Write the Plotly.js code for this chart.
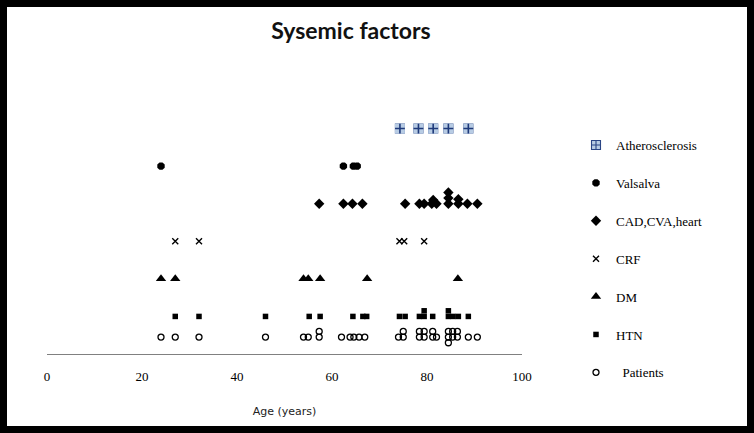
<!DOCTYPE html>
<html><head><meta charset="utf-8">
<script src="https://cdn.plot.ly/plotly-3.0.1.min.js"></script>
<style>html,body{margin:0;padding:0;background:#fff}#chart{width:754px;height:433px}</style>
</head><body><div id="chart"></div>
<script>
// Ages (years), with row levels (stacked duplicates slightly offset)
const atheroAge = [74.3, 78.2, 81.3, 84.5, 88.7];
const atheroLvl = [6, 6, 6, 6, 6];

const valsalvaAge = [24, 62.4, 64.5, 65.3];
const valsalvaLvl = [5, 5, 5, 5];

const cadAge = [57.3, 62.4, 64.3, 66.4, 75.4, 78.4, 79.4, 81.0, 81.3, 82.0, 84.5, 84.5, 84.5, 86.6, 86.6, 88.5, 90.6];
const cadLvl = [4, 4, 4, 4, 4, 4, 4, 4, 4.1, 4, 4, 4.15, 4.3, 4, 4.12, 4, 4];

const crfAge = [27, 32, 74.2, 75.2, 79.4];
const crfLvl = [3, 3, 3, 3, 3];

const dmAge = [24, 27, 54, 55, 57.5, 67.4, 86.5];
const dmLvl = [2, 2, 2, 2, 2, 2, 2];

const htnAge = [27, 32, 46, 55.2, 57.5, 64.4, 66.5, 67.3, 74.2, 75.4, 78.4, 79.4, 79.4, 81.2, 84.5, 84.5, 85.5, 86.6, 88.7];
const htnLvl = [1, 1, 1, 1, 1, 1, 1, 1, 1, 1, 1, 1, 1.15, 1, 1, 1.15, 1, 1, 1];

const patAge = [24, 27, 32, 46, 54, 55, 57.3, 57.3, 62, 63.8, 64.6, 65.7, 66.9, 74, 75, 75, 78.4, 78.4, 79.4, 79.4, 81.2, 81.2, 82, 84.5, 84.5, 84.5, 85.4, 85.4, 86.4, 86.4, 88.7, 90.6];
const patLvl = [0.45, 0.45, 0.45, 0.45, 0.45, 0.45, 0.45, 0.6, 0.45, 0.45, 0.45, 0.45, 0.45, 0.45, 0.45, 0.6, 0.45, 0.6, 0.45, 0.6, 0.45, 0.6, 0.45, 0.3, 0.45, 0.6, 0.45, 0.6, 0.45, 0.6, 0.45, 0.45];

const seriesNames = ['Atherosclerosis', 'Valsalva', 'CAD,CVA,heart', 'CRF', 'DM', 'HTN', '\u00a0\u00a0Patients'];
const xTicks = [0, 20, 40, 60, 80, 100];

const traces = [
  {x: atheroAge, y: atheroLvl, name: seriesNames[0], type: 'scatter', mode: 'markers', legendgroup: 'a',
   marker: {symbol: 'square-cross', size: 9, color: '#b8cce4', line: {color: '#2a4585', width: 1.1}}},
  // light square and small plus drawn over the same Atherosclerosis points
  {x: atheroAge, y: atheroLvl, type: 'scatter', mode: 'markers', showlegend: false, legendgroup: 'a',
   marker: {symbol: 'square', size: 10, color: '#b8cce4', line: {width: 0}}},
  {x: atheroAge, y: atheroLvl, type: 'scatter', mode: 'markers', showlegend: false, legendgroup: 'a',
   marker: {symbol: 'cross-thin-open', size: 7, color: '#1f3a7a', line: {color: '#1f3a7a', width: 1.6}}},
  {x: valsalvaAge, y: valsalvaLvl, name: seriesNames[1], type: 'scatter', mode: 'markers', legendgroup: 'b',
   marker: {symbol: 'octagon', size: 8, color: '#000'}},
  {x: cadAge, y: cadLvl, name: seriesNames[2], type: 'scatter', mode: 'markers', legendgroup: 'c',
   marker: {symbol: 'diamond', size: 8, color: '#000'}},
  {x: crfAge, y: crfLvl, name: seriesNames[3], type: 'scatter', mode: 'markers', legendgroup: 'd',
   marker: {symbol: 'x-thin-open', size: 6, color: '#000', line: {color: '#000', width: 1.4}}},
  {x: dmAge, y: dmLvl, name: seriesNames[4], type: 'scatter', mode: 'markers', legendgroup: 'e',
   marker: {symbol: 'triangle-up', size: 9, color: '#000'}},
  {x: htnAge, y: htnLvl, name: seriesNames[5], type: 'scatter', mode: 'markers', legendgroup: 'f',
   marker: {symbol: 'square', size: 5.5, color: '#000'}},
  {x: patAge, y: patLvl, name: seriesNames[6], type: 'scatter', mode: 'markers', legendgroup: 'g',
   marker: {symbol: 'circle-open', size: 6, color: '#000', line: {color: '#000', width: 1.3}}}
];

const W = 754, H = 433, L = 47, R = 232, T = 91, B = 79;
const pw = W - L - R, ph = H - T - B;
const px2x = p => (p - L) / pw;
const py2y = p => (H - B - p) / ph;

const layout = {
  width: W, height: H,
  margin: {l: L, r: R, t: T, b: B},
  paper_bgcolor: '#fff', plot_bgcolor: '#fff',
  title: {text: 'Sysemic factors', font: {family: 'Lato', size: 23, weight: 'bold', color: '#111'},
          xref: 'container', x: 351 / W, xanchor: 'center', yref: 'container', y: 1 - 31 / H, yanchor: 'middle'},
  xaxis: {range: [0, 100], tickvals: xTicks, ticktext: xTicks.map(String), showline: true, linecolor: '#808080', linewidth: 1,
          showgrid: false, zeroline: false, ticks: 'outside', ticklen: 10, tickcolor: 'rgba(0,0,0,0)',
          tickfont: {family: 'Liberation Serif', size: 13, color: '#000'},
          title: {text: 'Age (years)', font: {family: 'DejaVu Sans', size: 11, color: '#222'}, standoff: 24}},
  yaxis: {range: [0, 7], visible: false},
  showlegend: true,
  legend: {x: px2x(576), xanchor: 'left', y: py2y(130), yanchor: 'top', traceorder: 'grouped',
           tracegroupgap: 18, font: {family: 'Liberation Serif', size: 13, color: '#000'}, bgcolor: 'rgba(0,0,0,0)'},
  shapes: [{type: 'rect', xref: 'paper', yref: 'paper', x0: px2x(3.5), x1: px2x(750.5), y0: py2y(429.5), y1: py2y(3.5),
            line: {color: '#000', width: 7}, fillcolor: 'rgba(0,0,0,0)', layer: 'above'}]
};

Plotly.newPlot('chart', traces, layout, {displayModeBar: false, staticPlot: true});
</script></body></html>
